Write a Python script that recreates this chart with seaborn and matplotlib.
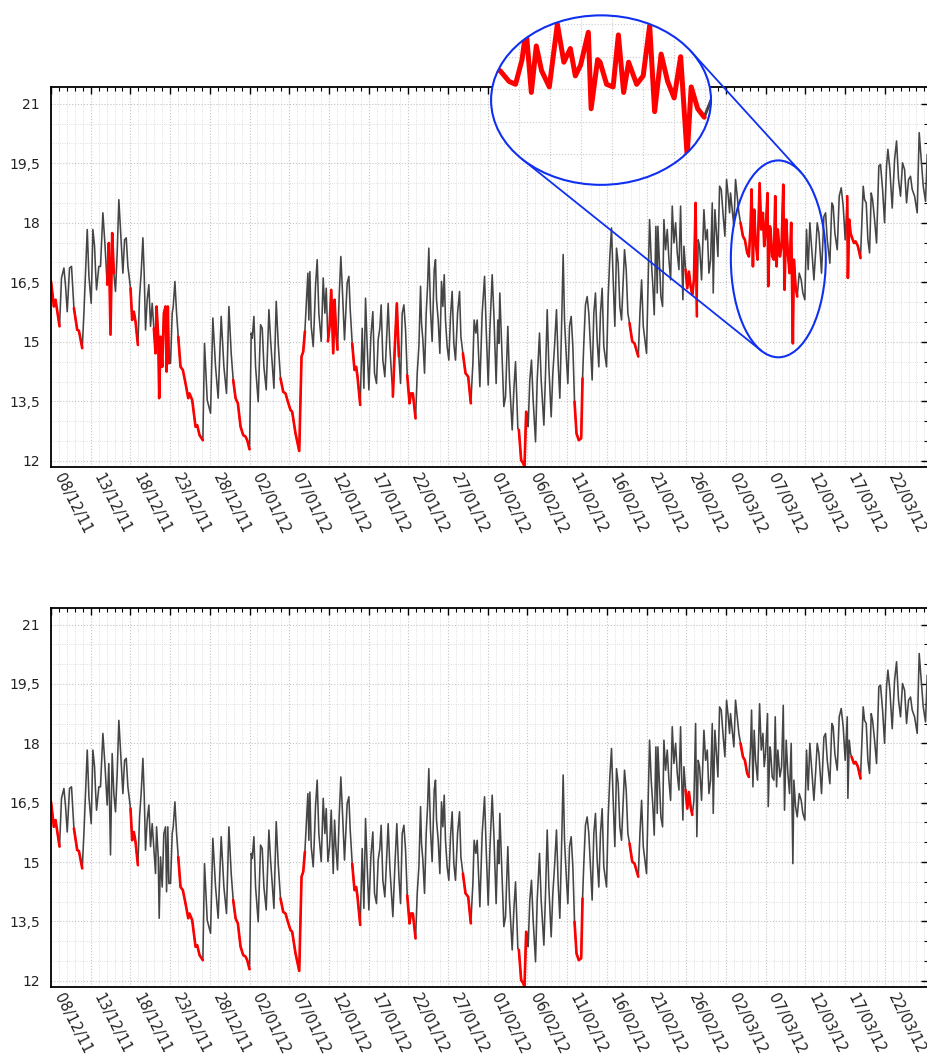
import numpy as np
import pandas as pd
import matplotlib
matplotlib.use("Agg")
import matplotlib.pyplot as plt
import seaborn as sns
from matplotlib.patches import Ellipse
from matplotlib.ticker import FixedLocator, MultipleLocator, FuncFormatter

# ---------------- data (days since 08/12/2011, temperature) ----------------
days = [
    0.00, 0.36, 0.57, 1.07, 1.32, 1.62, 1.83, 2.04, 2.33, 2.58, 2.88, 3.30, 3.51, 3.93,
    4.14, 4.43, 4.56, 4.77, 5.06, 5.27, 5.48, 5.60, 5.73, 6.02, 6.23, 6.53, 6.78, 7.07,
    7.28, 7.49, 7.70, 7.91, 8.12, 8.33, 8.54, 8.80, 9.05, 9.26, 9.47, 9.68, 10.01, 10.22,
    10.43, 10.64, 10.94, 11.15, 11.36, 11.57, 11.73, 11.90, 12.11, 12.32, 12.53, 12.74,
    12.95, 13.16, 13.29, 13.50, 13.62, 13.79, 14.00, 14.21, 14.42, 14.55, 14.71, 14.84,
    15.05, 15.26, 15.39, 15.60, 15.81, 16.02, 16.31, 16.60, 16.94, 17.28, 17.44, 17.78,
    18.20, 18.41, 18.70,
    19.12, 19.33, 19.67, 20.09, 20.38, 20.72, 21.05, 21.43, 21.77, 22.10, 22.40, 22.69,
    22.94, 23.24, 23.53, 23.87, 24.20, 24.50, 24.71, 25.00, 25.21, 25.34, 25.55, 25.76,
    26.09, 26.39, 26.60, 26.81, 27.10, 27.44, 27.65, 28.07, 28.36, 28.61, 28.90, 29.24,
    29.53, 29.83, 30.16, 30.37, 30.79, 31.26, 31.55, 31.76, 31.97, 32.18, 32.35, 32.47,
    32.60, 32.77, 33.02, 33.19, 33.31, 33.52, 33.73, 34.03, 34.28, 34.49, 34.66, 34.87,
    35.08, 35.29, 35.54, 35.71, 35.87, 36.08, 36.29, 36.50, 36.71, 36.96,
    37.30, 37.51, 37.68, 37.93, 38.22, 38.43, 38.60, 38.94, 39.19, 39.40, 39.61, 39.82,
    40.03, 40.28, 40.53, 40.74, 40.99, 41.20, 41.41, 41.58, 41.79, 42.04, 42.25, 42.46,
    42.67, 43.05, 43.30, 43.55, 43.81, 44.02, 44.23, 44.44, 44.65, 44.86, 45.15, 45.32,
    45.57, 45.91, 46.12, 46.33, 46.54, 46.66, 46.83, 47.04, 47.25, 47.42, 47.58, 47.79,
    48.00, 48.26, 48.42, 48.55, 48.76, 48.97, 49.18, 49.35, 49.52, 49.68, 49.89, 50.10,
    50.31, 50.52, 50.73, 50.94, 51.20, 51.45, 51.62, 51.87, 52.20, 52.54, 52.87, 53.13,
    53.29, 53.50, 53.67, 54.01, 54.30, 54.60, 54.81, 55.06,
    55.27, 55.56, 55.77, 56.06, 56.27, 56.40, 56.52, 56.73, 57.03, 57.24, 57.53, 57.74,
    58.08, 58.29, 58.50, 58.62, 58.79, 58.92, 59.21, 59.46, 59.63, 59.84, 59.97, 60.09,
    60.30, 60.51, 60.72, 61.02, 61.23, 61.52, 61.73, 62.07, 62.28, 62.49, 62.70, 62.99,
    63.20, 63.41, 63.66, 63.87, 64.08, 64.29, 64.50, 64.67, 64.92, 65.09, 65.30, 65.51,
    65.72, 65.93, 66.18, 66.47, 66.77, 66.94, 67.10, 67.31, 67.52, 67.73, 67.94, 68.15,
    68.36, 68.57, 68.78, 68.99, 69.20, 69.41, 69.62, 69.96, 70.17, 70.38, 70.59, 70.80,
    71.01, 71.22, 71.43, 71.64, 71.85, 72.06, 72.23, 72.44, 72.65, 72.86,
    73.20, 73.49, 73.96, 74.17, 74.38, 74.59, 74.79, 75.00, 75.21, 75.38, 75.59, 75.80,
    75.97, 76.18, 76.35, 76.43, 76.64, 76.81, 77.02, 77.19, 77.40, 77.61, 77.82, 78.03,
    78.24, 78.45, 78.66, 78.87, 79.08, 79.29, 79.41, 79.58, 79.71, 79.92, 80.13, 80.34,
    80.55, 80.76, 80.97, 81.18, 81.34, 81.51, 81.68, 81.93, 82.23, 82.44, 82.65, 82.86,
    83.07, 83.28, 83.40, 83.61, 83.78, 83.99, 84.20, 84.41, 84.66, 84.87, 85.08, 85.29,
    85.46, 85.58, 85.79, 86.00, 86.21, 86.42, 86.63, 86.84, 87.14, 87.39, 87.68, 87.89,
    88.10, 88.23, 88.40, 88.56, 88.73, 88.98, 89.24, 89.45, 89.66, 89.82, 89.99, 90.24,
    90.33, 90.54,
    90.62, 90.83, 91.04, 91.21, 91.38, 91.54, 91.80, 92.01, 92.22, 92.38, 92.59, 92.80,
    93.01, 93.22, 93.43, 93.56, 93.77, 93.98, 94.23, 94.48, 94.69, 94.94, 95.15, 95.36,
    95.57, 95.78, 96.08, 96.29, 96.50, 96.71, 97.04, 97.34, 97.55, 97.76, 98.09, 98.34,
    98.51, 98.72, 99.02, 99.27, 99.52, 99.77, 100.02, 100.28, 100.36, 100.53, 100.70,
    100.82, 101.12, 101.33, 101.62, 101.95, 102.17, 102.29, 102.46, 102.67, 102.88,
    103.09, 103.30, 103.47, 103.72, 103.97, 104.26, 104.47, 104.73, 104.98, 105.23,
    105.40, 105.65, 105.94, 106.24, 106.49, 106.74, 106.99, 107.24, 107.50, 107.75,
    108.00, 108.25, 108.46, 108.76, 109.09, 109.34, 109.59, 109.85, 110.14, 110.35, 110.52,
]

temps = [
    16.52, 15.89, 16.06, 15.39, 16.61, 16.86, 16.40, 15.76, 16.86, 16.90, 15.85, 15.30, 15.28, 14.84,
    15.72, 17.15, 17.83, 16.65, 15.97, 17.83, 17.41, 16.82, 16.31, 16.90, 16.90, 18.25, 17.49, 16.44,
    17.49, 15.18, 17.74, 16.73, 16.27, 17.24, 18.58, 17.66, 16.73, 17.57, 17.62, 16.90, 16.35, 15.55,
    15.76, 15.51, 14.92, 16.14, 16.77, 17.62, 16.73, 15.30, 16.06, 16.44, 15.39, 15.97,
    15.34, 14.71, 15.89, 15.13, 13.58, 15.13, 14.37, 15.72, 15.89, 14.25, 15.89, 14.46,
    14.46, 15.72, 15.89, 16.52, 15.72, 15.13, 14.37, 14.29, 13.95, 13.58, 13.70, 13.53,
    12.86, 12.90, 12.65,
    12.52, 14.96, 13.53, 13.20, 15.60, 14.37, 13.58, 15.64, 14.37, 13.70, 15.89, 14.71,
    14.04, 13.58, 13.45, 12.86, 12.65, 12.61, 12.52, 12.29, 15.22, 15.09, 15.64, 14.37,
    13.49, 15.43, 15.34, 14.37, 13.79, 15.81, 15.05, 13.83, 16.02, 14.96, 14.08, 13.74,
    13.70, 13.49, 13.28, 13.24, 12.69, 12.25, 14.63, 14.75, 15.26, 16.06, 16.73, 15.55,
    16.77, 15.39, 14.88, 15.72, 16.40, 17.07, 15.72, 15.01, 16.61, 15.72, 16.35, 15.01,
    15.39, 16.31, 14.71, 16.06, 15.39, 14.80, 16.14, 17.15, 16.23, 15.05,
    16.48, 16.65, 15.81, 14.96, 14.29, 14.37, 14.12, 13.41, 15.34, 13.83, 16.10, 14.88,
    13.79, 15.13, 15.76, 14.21, 13.95, 15.05, 15.34, 15.93, 14.54, 14.12, 15.01, 15.97,
    14.88, 13.62, 14.88, 15.97, 14.63, 13.95, 15.72, 15.93, 15.30, 14.16, 13.45, 13.70,
    13.70, 13.07, 14.21, 14.88, 16.40, 15.47, 15.05, 14.21, 15.72, 16.40, 17.36, 15.81,
    15.01, 16.82, 17.07, 16.06, 15.55, 14.71, 16.52, 15.89, 16.69, 15.55, 14.88, 14.54,
    15.64, 16.27, 14.96, 14.54, 15.72, 16.27, 15.13, 14.71, 14.21, 14.12, 13.45, 14.46,
    15.55, 15.22, 15.55, 13.87, 15.72, 16.65, 15.30, 13.91,
    15.30, 16.69, 15.72, 13.95, 15.55, 14.96, 16.23, 15.05, 13.37, 13.62, 15.39, 14.04,
    12.78, 13.79, 14.50, 13.79, 12.82, 12.78, 12.02, 11.94, 11.85, 13.24, 13.20, 12.86,
    14.04, 14.54, 13.53, 12.48, 14.04, 15.22, 14.04, 12.90, 14.21, 15.81, 14.37, 13.11,
    14.21, 14.88, 15.81, 14.46, 13.58, 15.30, 17.20, 15.55, 14.54, 13.95, 15.39, 15.64,
    14.88, 13.49, 12.69, 12.52, 12.57, 14.08, 14.96, 15.93, 16.14, 15.72, 14.88, 14.04,
    15.72, 16.23, 15.05, 14.37, 15.72, 16.35, 14.88, 14.37, 16.14, 17.15, 17.87, 16.56,
    15.39, 17.36, 16.98, 15.89, 15.55, 16.56, 17.32, 16.82, 15.72, 15.47,
    15.01, 14.96, 14.63, 15.72, 16.56, 15.39, 15.05, 14.71, 16.56, 18.08, 17.07, 16.40,
    15.68, 17.91, 16.23, 17.91, 16.90, 16.14, 15.89, 18.08, 17.32, 17.83, 17.07, 16.56,
    18.42, 17.49, 18.00, 17.24, 16.82, 18.42, 17.24, 16.06, 17.41, 16.82, 16.35, 16.77,
    16.40, 16.19, 16.56, 18.50, 15.64, 17.57, 17.41, 16.56, 18.33, 17.57, 17.83, 16.73,
    17.07, 18.50, 16.23, 18.33, 17.83, 17.15, 18.92, 18.84, 18.16, 17.66, 19.09, 18.67,
    18.25, 18.75, 18.33, 17.91, 19.09, 18.67, 18.25, 18.00, 17.66, 17.57, 17.24, 17.15,
    17.91, 18.84, 16.90, 18.33, 17.57, 17.07, 19.00, 17.83, 18.25, 17.41, 17.74, 18.75,
    16.40, 17.91,
    17.83, 17.15, 17.07, 18.67, 16.90, 17.83, 17.15, 17.41, 18.96, 16.31, 18.08, 17.24,
    16.73, 18.00, 14.96, 17.07, 16.40, 16.14, 16.73, 16.56, 16.23, 16.06, 17.83, 16.82,
    18.00, 17.41, 16.56, 17.24, 18.00, 17.74, 16.73, 18.16, 18.25, 17.57, 16.98, 18.50,
    18.42, 17.74, 17.32, 18.67, 18.88, 18.42, 17.57, 18.67, 16.61, 18.08, 17.74,
    17.66, 17.49, 17.53, 17.41, 17.11, 18.25, 18.92, 18.58, 18.50, 17.57,
    17.24, 18.75, 18.58, 18.08, 17.49, 19.43, 19.47, 18.84, 18.00, 19.43,
    19.85, 19.34, 18.37, 19.59, 20.06, 19.09, 18.67, 19.51, 19.34, 18.50,
    19.09, 19.17, 18.84, 18.67, 18.25, 20.27, 19.59, 18.92, 18.54, 19.72, 19.68,
]

tick_days = [0, 5, 10, 15, 20, 25, 30, 35, 40, 45, 50, 55, 60, 65, 70, 75, 80, 85, 90, 95, 100, 105]
tick_labels = ["08/12/11", "13/12/11", "18/12/11", "23/12/11", "28/12/11", "02/01/12",
               "07/01/12", "12/01/12", "17/01/12", "22/01/12", "27/01/12", "01/02/12",
               "06/02/12", "11/02/12", "16/02/12", "21/02/12", "26/02/12", "02/03/12",
               "07/03/12", "12/03/12", "17/03/12", "22/03/12"]

top_red_start = [0.0, 2.88, 6.9, 10.01, 12.95, 16.02, 22.94, 28.90, 34.85, 37.93, 42.85,
                 44.86, 51.87, 58.92, 65.93, 72.86, 79.92, 86.84, 100.2]
top_red_end = [1.07, 3.93, 8.1, 10.94, 14.9, 19.12, 25.00, 31.97, 36.1, 38.94, 44.0,
               45.91, 52.87, 59.84, 66.94, 73.96, 81.45, 94.0, 101.95]
bottom_red_start = [0.0, 2.88, 10.01, 16.02, 22.94, 28.90, 37.93, 44.86, 51.87, 58.92,
                    65.93, 72.86, 79.92, 86.84, 100.82]
bottom_red_end = [1.07, 3.93, 10.94, 19.12, 25.00, 31.97, 38.94, 45.91, 52.87, 59.84,
                  66.94, 73.96, 80.76, 87.89, 101.95]

# ---------------- style ----------------
sns.set_style("white")
plt.rcParams["font.family"] = ["DejaVu Sans"]

LINE = "#454545"
RED = "#ff0000"
BLUE = "#1030f0"

df = pd.DataFrame({"day": days, "temp": temps})


def red_frame(starts, ends):
    parts = []
    for i, (a, b) in enumerate(zip(starts, ends)):
        seg = df[(df["day"] >= a - 1e-6) & (df["day"] <= b + 1e-6)].copy()
        seg["seg"] = i
        parts.append(seg)
    return pd.concat(parts, ignore_index=True)


def draw_series(ax, starts, ends, lw_line=1.15, lw_red=1.9):
    sns.lineplot(data=df, x="day", y="temp", ax=ax, color=LINE, lw=lw_line,
                 sort=False, estimator=None)
    sns.lineplot(data=red_frame(starts, ends), x="day", y="temp", units="seg",
                 estimator=None, ax=ax, color=RED, lw=lw_red, sort=False)


def style_axes(ax):
    ax.set_xlim(0, 110.45)
    ax.set_ylim(11.85, 21.42)
    ax.xaxis.set_major_locator(FixedLocator(tick_days))
    ax.xaxis.set_minor_locator(MultipleLocator(1))
    ax.set_xticklabels(tick_labels, rotation=-63, ha="left", va="top", fontsize=10.5,
                       color="#222222")
    ax.yaxis.set_major_locator(MultipleLocator(1.5))
    ax.yaxis.set_minor_locator(MultipleLocator(0.5))
    ax.yaxis.set_major_formatter(FuncFormatter(lambda v, p: f"{v:g}".replace(".", ",")))
    ax.tick_params(axis="y", labelsize=10, labelcolor="#222222", pad=8)
    ax.tick_params(axis="x", pad=3)
    ax.tick_params(which="both", direction="in", top=True, right=True, color="black")
    ax.tick_params(which="major", length=5, width=1.0)
    ax.tick_params(which="minor", length=3, width=0.8)
    ax.grid(which="major", ls=":", color="#c4c4c4", lw=0.8)
    ax.grid(which="minor", ls=":", color="#d6d6d6", lw=0.6)
    ax.set_xlabel("")
    ax.set_ylabel("")
    for s in ax.spines.values():
        s.set_visible(True)
        s.set_linewidth(1.3)
        s.set_color("black")
    for lab in ax.get_xticklabels():
        lab.set_x(lab.get_position()[0])


fig = plt.figure(figsize=(9.28, 10.61), dpi=100)
ax1 = fig.add_axes([0.055, 0.560, 0.945, 0.358])
ax2 = fig.add_axes([0.055, 0.070, 0.945, 0.357])

draw_series(ax1, top_red_start, top_red_end)
draw_series(ax2, bottom_red_start, bottom_red_end)
style_axes(ax1)
style_axes(ax2)

# ---------------- magnifier (top panel) ----------------
small_c, small_w, small_h = (91.6, 17.09), 11.96, 4.96
big_c, big_w, big_h = (69.27, 21.09), 27.7, 4.27
inset_xlim, inset_ylim = (87.1, 94.2), (14.06, 19.27)

ax1.add_patch(Ellipse(small_c, small_w, small_h, fill=False, edgecolor=BLUE, lw=1.5,
                      zorder=6, clip_on=False))

fig.canvas.draw()


def ell_disp(cx, cy, w, h):
    p0 = ax1.transData.transform((cx, cy))
    p1 = ax1.transData.transform((cx + w / 2, cy + h / 2))
    return p0, abs(p1[0] - p0[0]), abs(p1[1] - p0[1])


c1, a1, b1 = ell_disp(*big_c, big_w, big_h)
c2, a2, b2 = ell_disp(*small_c, small_w, small_h)
th = np.linspace(0, 2 * np.pi, 40001)
nx, ny = np.cos(th), np.sin(th)
s1 = np.sqrt((a1 * nx) ** 2 + (b1 * ny) ** 2)
s2 = np.sqrt((a2 * nx) ** 2 + (b2 * ny) ** 2)
f = (nx * c1[0] + ny * c1[1] + s1) - (nx * c2[0] + ny * c2[1] + s2)
idx = np.where(np.sign(f[:-1]) != np.sign(f[1:]))[0]
inv = ax1.transData.inverted()
for i in idx:
    t1 = (c1[0] + a1 ** 2 * nx[i] / s1[i], c1[1] + b1 ** 2 * ny[i] / s1[i])
    t2 = (c2[0] + a2 ** 2 * nx[i] / s2[i], c2[1] + b2 ** 2 * ny[i] / s2[i])
    d1, d2 = inv.transform(t1), inv.transform(t2)
    ax1.plot([d1[0], d2[0]], [d1[1], d2[1]], color=BLUE, lw=1.3, clip_on=False, zorder=6)

# inset axes placed on the big ellipse bounding box
fw, fh = fig.bbox.width, fig.bbox.height
rect = [(c1[0] - a1) / fw, (c1[1] - b1) / fh, 2 * a1 / fw, 2 * b1 / fh]
axin = fig.add_axes(rect)
bg = Ellipse((0.5, 0.5), 1, 1, transform=axin.transAxes, facecolor="white",
             edgecolor="none", zorder=0)
axin.add_patch(bg)
for d in range(88, 95):
    gl = axin.axvline(d, ls=":", color="#cccccc", lw=0.8, zorder=1)
    gl.set_clip_path(bg)
for v in [15, 16, 17, 18, 19]:
    gl = axin.axhline(v, ls=":", color="#cccccc", lw=0.8, zorder=1)
    gl.set_clip_path(bg)
draw_series(axin, top_red_start, top_red_end, lw_line=2.2, lw_red=3.6)
for ln in axin.lines:
    ln.set_clip_path(bg)
axin.set_xlim(*inset_xlim)
axin.set_ylim(*inset_ylim)
axin.axis("off")
axin.add_patch(Ellipse((0.5, 0.5), 1, 1, transform=axin.transAxes, fill=False,
                       edgecolor=BLUE, lw=1.5, clip_on=False, zorder=7))

fig.savefig("out.png", dpi=100)
